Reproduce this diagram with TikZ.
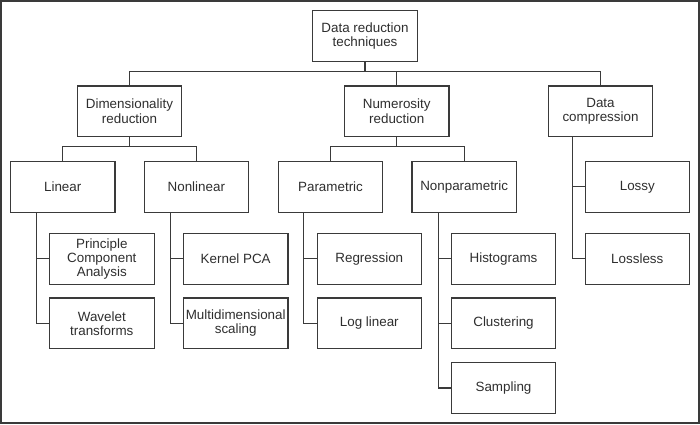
\documentclass[tikz,border=0pt]{standalone}
\usepackage{fontspec}
\setmainfont{Liberation Sans}
\definecolor{ln}{HTML}{3A3A3A}
\definecolor{tx}{HTML}{2E2E2E}
\begin{document}
\begin{tikzpicture}[x=1pt,y=-1pt,
  box/.style={draw=ln,line width=1.1pt,minimum width=104.5pt,minimum height=50.7pt,
    inner sep=1pt,align=center,text=tx,font=\fontsize{13.4}{14.2}\selectfont},
  conn/.style={draw=ln,line width=1.1pt}]
\useasboundingbox (0,0) rectangle (700,424);
\draw[ln,line width=1.6pt] (0.8,0.8) rectangle (699.2,423.2);
% level 0
\node[box] (top) at (365,35.7) {Data reduction\\techniques};
% level 1
\node[box] (dim) at (129.5,111.3) {Dimensionality\\reduction};
\node[box] (num) at (396.7,111.3) {Numerosity\\reduction};
\node[box] (comp) at (600.5,111.3) {Data\\compression};
% level 2
\node[box] (lin) at (62.7,186.8) {Linear};
\node[box] (nonlin) at (196.3,186.8) {Nonlinear};
\node[box] (par) at (330.5,186.8) {Parametric};
\node[box] (npar) at (464.2,186.8) {Nonparametric};
\node[box] (lossy) at (637.3,186.8) {Lossy};
\node[box] (lossless) at (637.3,258.8) {Lossless};
% leaves
\node[box] (pca) at (101.8,258.8) {Principle\\Component\\Analysis};
\node[box] (wav) at (101.8,323.3) {Wavelet\\transforms};
\node[box] (kpca) at (235.7,258.8) {Kernel PCA};
\node[box] (mds) at (235.7,323.3) {Multidimensional\\scaling};
\node[box] (reg) at (369.3,258.8) {Regression};
\node[box] (loglin) at (369.3,323.3) {Log linear};
\node[box] (hist) at (503.5,258.8) {Histograms};
\node[box] (clus) at (503.5,323.3) {Clustering};
\node[box] (samp) at (503.5,388) {Sampling};
% buses
\coordinate (bus1) at (0,71.7);
\coordinate (bus2) at (0,146.7);
\draw[conn] (top.south) -- (top.south |- bus1);
\draw[conn] (dim.north) -- (dim.north |- bus1) -- (comp.north |- bus1) -- (comp.north);
\draw[conn] (num.north) -- (num.north |- bus1);
\draw[conn] (dim.south) -- (dim.south |- bus2);
\draw[conn] (lin.north) -- (lin.north |- bus2) -- (nonlin.north |- bus2) -- (nonlin.north);
\draw[conn] (num.south) -- (num.south |- bus2);
\draw[conn] (par.north) -- (par.north |- bus2) -- (npar.north |- bus2) -- (npar.north);
% spines
\coordinate (sl) at ([xshift=26.4pt]lin.south west);
\draw[conn] (sl) |- (wav.west);
\draw[conn] (sl |- pca.west) -- (pca.west);
\coordinate (sn) at ([xshift=27pt]nonlin.south west);
\draw[conn] (sn) |- (mds.west);
\draw[conn] (sn |- kpca.west) -- (kpca.west);
\coordinate (sp) at ([xshift=26pt]par.south west);
\draw[conn] (sp) |- (loglin.west);
\draw[conn] (sp |- reg.west) -- (reg.west);
\coordinate (snp) at ([xshift=27pt]npar.south west);
\draw[conn] (snp) |- (samp.west);
\draw[conn] (snp |- hist.west) -- (hist.west);
\draw[conn] (snp |- clus.west) -- (clus.west);
\coordinate (sc) at ([xshift=24.4pt]comp.south west);
\draw[conn] (sc) |- (lossless.west);
\draw[conn] (sc |- lossy.west) -- (lossy.west);
\end{tikzpicture}
\end{document}
